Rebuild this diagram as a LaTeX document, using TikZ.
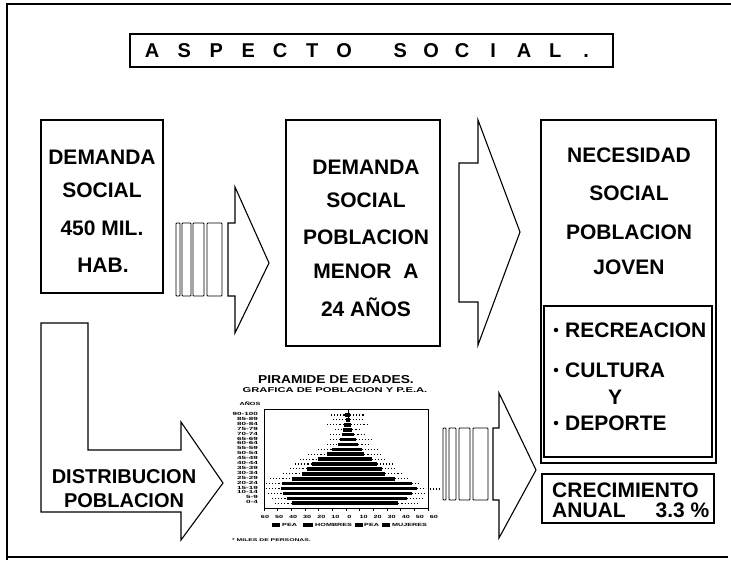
\documentclass[tikz,border=0pt]{standalone}
\usepackage{fontspec}
\setmainfont{Liberation Sans}
\usepackage{graphicx}
\begin{document}
\begin{tikzpicture}[x=1pt,y=-1pt,line join=miter,
  frame/.style={line width=1.6pt},
  box/.style={draw,line width=1.1pt,inner sep=0pt},
  arrowshape/.style={draw,line width=1.1pt},
  stripe/.style={draw,line width=0.9pt,rounded corners=0.8pt},
  big/.style={font=\fontsize{21}{24}\selectfont\bfseries,anchor=base,inner sep=0pt},
  bigl/.style={big,anchor=base west},
  mid/.style={font=\fontsize{20}{24}\selectfont\bfseries,anchor=base,inner sep=0pt},
  bul/.style={circle,fill=black,inner sep=0pt,minimum size=4.5pt},
  ttl/.style={font=\fontsize{20}{24}\selectfont\bfseries,anchor=base west,inner sep=0pt},
  tiny/.style={font=\fontsize{4.5}{5}\selectfont\bfseries,inner sep=0pt},
  chartframe/.style={draw,line width=0.9pt},
]
\useasboundingbox (0,0) rectangle (731,562);
% outer frame
\draw[frame] (731,4) -- (7,4) -- (7,560);
\draw[line width=1.2pt] (7,557) -- (728,557);

% title
\node[box,minimum width=483pt,minimum height=33pt] (titlebox) at (371.5,50.5) {};
\node[ttl] (title) at (136,57.5) {\makebox[32pt]{A}\makebox[32pt]{S}\makebox[32pt]{P}\makebox[32pt]{E}\makebox[32pt]{C}\makebox[32pt]{T}\makebox[32pt]{O}\hspace{24.5pt}\makebox[31pt]{S}\makebox[31pt]{O}\makebox[31pt]{C}\makebox[31pt]{I}\makebox[31pt]{A}\makebox[31pt]{L}\makebox[31pt]{.}};

% box 1
\node[box,minimum width=122pt,minimum height=173pt] (b1) at (102,206.5) {};
\node[big] (b1a) at (102,164.5) {DEMANDA};
\node[big] (b1b) at (102,197.5) {SOCIAL};
\node[big] (b1c) at (102,235.5) {450 MIL.};
\node[big] (b1d) at (103,272.5) {HAB.};

% arrow 1
\foreach \xa/\xb in {176/180,182/191,193/204,207/222}
  \draw[stripe] (\xa,223) rectangle (\xb,296);
\draw[arrowshape] (235,187) -- (235,223) -- (228,223) -- (228,296) -- (235,296) -- (235,333) -- (269,263) -- cycle;

% box 2
\node[box,minimum width=154pt,minimum height=226pt] (b2) at (363,233) {};
\node[big] (b2a) at (366,174) {DEMANDA};
\node[big] (b2b) at (366,207) {SOCIAL};
\node[big] (b2c) at (366,244) {POBLACION};
\node[big] (b2d) at (366,278) {MENOR\hspace{12pt}A};
\node[big] (b2e) at (366,316) {24 AÑOS};

% arrow 2
\draw[arrowshape] (478,120) -- (478,163) -- (459,163) -- (459,302) -- (478,302) -- (478,345) -- (520,232) -- cycle;

% box 3
\node[box,minimum width=175pt,minimum height=343pt] (b3) at (628.5,291.5) {};
\node[big] (b3a) at (629,162) {NECESIDAD};
\node[big] (b3b) at (629,200) {SOCIAL};
\node[big] (b3c) at (629,239) {POBLACION};
\node[big] (b3d) at (629,274) {JOVEN};
\node[box,minimum width=168pt,minimum height=151pt] (inner) at (628,381.5) {};
\node[bul] (u1) at (556,330) {};
\node[bigl] (l1) at (565,337) {RECREACION};
\node[bul] (u2) at (556,370) {};
\node[bigl] (l2) at (565,377) {CULTURA};
\node[big] (l3) at (615,404) {Y};
\node[bul] (u3) at (556,423) {};
\node[bigl] (l4) at (565,430) {DEPORTE};
\node[box,minimum width=172pt,minimum height=49pt] (crec) at (628,498.5) {};
\node[bigl] (c1) at (552,497) {CRECIMIENTO};
\node[bigl] (c2) at (552,517) {ANUAL\hspace{30pt}3.3 \%};

% L-shaped arrow
\draw[arrowshape] (41,323) -- (88,323) -- (88,450) -- (181,450) -- (181,422) -- (223,483) -- (181,540) -- (181,512) -- (41,512) -- cycle;
\node[mid] (d1) at (124,483) {DISTRIBUCION};
\node[mid] (d2) at (124,507) {POBLACION};

% pyramid chart
\node[font=\fontsize{11.5}{12}\selectfont\bfseries,anchor=base,inner sep=0pt] (ct1) at (336,383) {\scalebox{1.2}[1]{PIRAMIDE DE EDADES.}};
\node[font=\fontsize{7}{8}\selectfont\bfseries,anchor=base,inner sep=0pt] (ct2) at (335,392.5) {\scalebox{1.6}[1]{GRAFICA DE POBLACION Y P.E.A.}};
\node[chartframe,minimum width=164pt,minimum height=99pt,inner sep=0pt] (chart) at (346,458.5) {};
% bars and dotted P.E.A. outlines
\foreach \k/\bl/\br/\dl/\dr in {0/345.0/350.0/331/365,1/345.7/350.0/333/363,2/344.3/351.0/327/367,3/343.3/352.3/335/360,4/341.7/354.3/330/365,5/340.0/355.7/330/372,6/338.3/358.3/327/370,7/332.3/361.7/318/380,8/326.7/364.3/308/382,9/318.3/371.7/300/387,10/312.3/376.7/295/393,11/306.7/381.7/290/397,12/302.3/385.0/283/402,13/291.7/395.0/270/408,14/281.7/411.7/266/420,15/281.0/416.7/266/426,16/283.3/411.7/268/425,17/286.7/406.7/272/423,18/291.7/398.3/275/418}{
  \fill (\bl,{415+4.9*\k-1.8}) rectangle (\br,{415+4.9*\k+1.8});
  \draw[dotted,line width=1.1pt] (\dl,{415+4.9*\k}) -- (\bl,{415+4.9*\k});
  \draw[dotted,line width=1.1pt] (\br,{415+4.9*\k}) -- (\dr,{415+4.9*\k});
}
\draw[line width=0.9pt] (348,409) -- (348,421);
\draw[dotted,line width=1.1pt] (430,489) -- (441,489);
% age labels
\node[tiny,anchor=base] (anos) at (250,405) {\scalebox{1.6}[1]{AÑOS}};
\foreach \k in {0,...,18}{
  \pgfmathtruncatemacro\lo{5*(18-\k)}
  \pgfmathtruncatemacro\hi{\lo+4}
  \ifnum\k=0 \def\lab{90-100}\else\edef\lab{\lo-\hi}\fi
  \node[tiny,anchor=east] (age\k) at (258,{414+4.9*\k}) {\scalebox{1.8}[1]{\lab}};
}
% x axis labels and ticks
\foreach \i in {0,...,12}{
  \pgfmathtruncatemacro\v{abs(60-10*\i)}
  \draw[line width=0.6pt] ({264+13.67*\i},508) -- ({264+13.67*\i},510.5);
  \node[tiny] (xl\i) at ({265+14.08*\i},517) {\scalebox{1.6}[1]{\v}};
}
% legend
\fill (272,522.5) rectangle (280,526.5);
\node[tiny,anchor=west] (lg1) at (282,524.5) {\scalebox{1.6}[1]{PEA}};
\fill (303,522.5) rectangle (313,526.5);
\node[tiny,anchor=west] (lg2) at (315,524.5) {\scalebox{1.6}[1]{HOMBRES}};
\fill (355,522.5) rectangle (363,526.5);
\node[tiny,anchor=west] (lg3) at (364,524.5) {\scalebox{1.6}[1]{PEA}};
\fill (382,522.5) rectangle (390,526.5);
\node[tiny,anchor=west] (lg4) at (392,524.5) {\scalebox{1.6}[1]{MUJERES}};
\node[tiny,font=\fontsize{4}{5}\selectfont\bfseries,anchor=west] (foot) at (232,540) {\scalebox{1.7}[1]{* MILES DE PERSONAS.}};

% arrow 3
\foreach \xa/\xb in {443/446,449/456,459/470,473/488}
  \draw[stripe] (\xa,428) rectangle (\xb,500);
\draw[arrowshape] (499,393) -- (499,428) -- (493,428) -- (493,500) -- (499,500) -- (499,538) -- (536,470) -- cycle;
\end{tikzpicture}
\end{document}
